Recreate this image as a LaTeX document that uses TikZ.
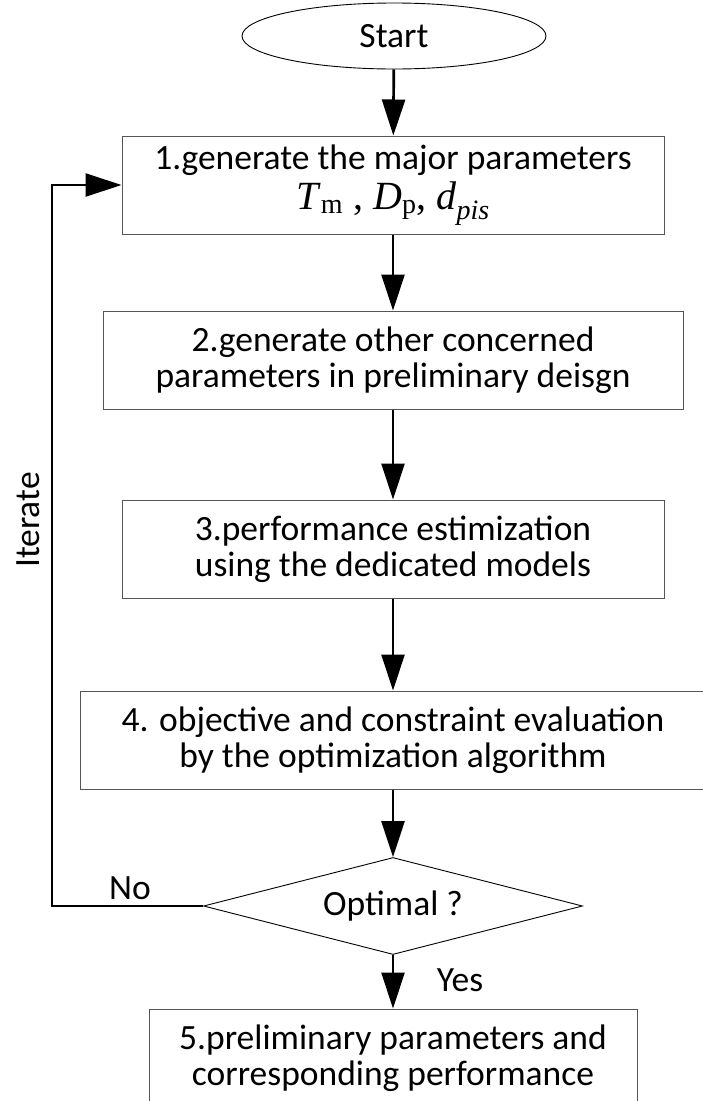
\documentclass[tikz,border=0pt]{standalone}
\usepackage{fontspec}
\setmainfont{Carlito}
\newfontfamily\tnr{Liberation Serif}
\usetikzlibrary{arrows.meta,positioning,shapes.geometric,calc}
\definecolor{frame}{RGB}{85,85,85}

\begin{document}
\begin{tikzpicture}[x=1pt, y=-1pt,
  txt/.style={font=\fontsize{35.5}{36}\selectfont},
  stepbox/.style={txt, draw=frame, line width=1pt, fill=white, align=center, inner sep=0pt, minimum height=98pt},
  flow/.style={line width=2.7pt, -{Triangle[length=36pt, width=23pt]}},
  decide/.style={txt, draw, line width=0.9pt, diamond, aspect=3.9, inner sep=0pt, minimum width=379pt, minimum height=97pt}]
\useasboundingbox (0,0) rectangle (702,1101);
\node[txt, draw, line width=0.9pt, ellipse, inner sep=0pt, minimum width=304pt, minimum height=66pt] (start) at (394,36) {Start};
\foreach \n/\y/\w/\t in {b1/185/542/{1.generate the major parameters\\[4pt] {\tnr\fontsize{40}{40}\selectfont\textit{T}\textsubscript{m} , \textit{D}\textsubscript{p}, \textit{d}\textsubscript{\textit{pis}}}},
    b2/360/580/{2.generate other concerned\\parameters in preliminary deisgn},
    b3/549/542/{3.performance estimization\\using the dedicated models},
    b4/740/626/{4. objective and constraint evaluation\\by the optimization algorithm},
    b5/1058/488/{5.preliminary parameters and\\corresponding performance}}
  { \node[stepbox, minimum width=\w pt] (\n) at (393,\y) {\t}; }
\node[decide] (opt) at (393,906) {Optimal ?};
\foreach \a/\b in {start/b1, b1/b2, b2/b3, b3/b4, b4/opt, opt/b5} { \draw[flow] (\a) -- (\b); }
\coordinate (turn) at (52,906);
\draw[flow] (opt.west) -- (turn) |- (b1.west);
\node[txt] (no) at (130,888) {No};
\node[txt] (yes) at (460,980) {Yes};
\node[txt, rotate=90] (iter) at (28,520) {Iterate};
\end{tikzpicture}
\end{document}
